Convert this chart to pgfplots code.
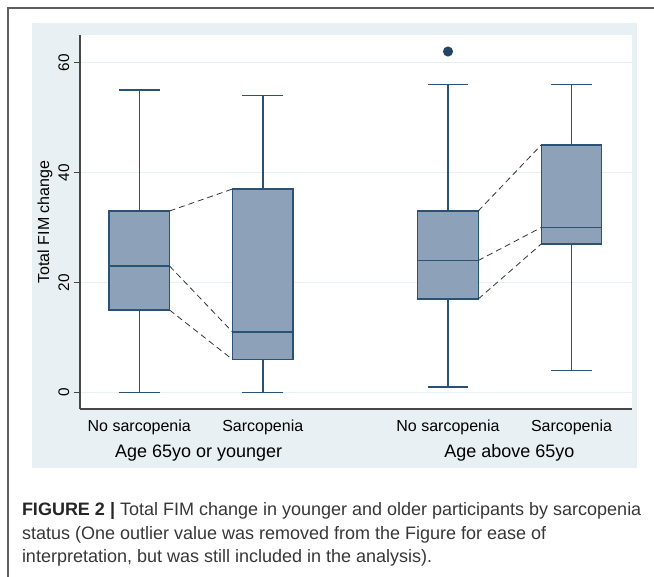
\documentclass[border=0pt]{standalone}
\usepackage{pgfplots}
\pgfplotsset{compat=1.18}
\usepgfplotslibrary{statistics}
\usepackage{fontspec}
\setmainfont{Liberation Sans}
\definecolor{bgpanel}{RGB}{232,240,243}
\definecolor{boxfill}{RGB}{141,162,184}
\definecolor{boxline}{RGB}{42,82,118}
\definecolor{gridc}{RGB}{232,240,244}
\definecolor{framec}{RGB}{95,95,95}
\definecolor{axisc}{RGB}{70,70,70}
\definecolor{captc}{RGB}{55,55,55}
\begin{document}
\begin{tikzpicture}
\path[use as bounding box] (0,0) rectangle (490.5pt,-432.75pt);
% figure frame
\draw[framec, line width=1.1pt] (490.5pt,-6pt) -- (6pt,-6pt) -- (6pt,-432.75pt);
% graph background panel
\fill[bgpanel] (24pt,-17.25pt) rectangle (477.75pt,-351pt);
\begin{axis}[
  at={(60pt,-306.75pt)}, anchor=south west,
  scale only axis, width=414pt, height=280.5pt,
  xmin=-0.48, xmax=3.99, ymin=-3, ymax=65,
  axis background/.style={fill=white},
  axis x line*=bottom, axis y line*=left,
  axis line style={axisc, line width=0.8pt, -},
  ytick={0,20,40,60},
  ymajorgrids, grid style={gridc, line width=0.9pt},
  tick align=outside, major tick length=4.5pt,
  ytick style={axisc, line width=0.8pt},
  xtick={0,1,2.5,3.5},
  xticklabels={No sarcopenia,Sarcopenia,No sarcopenia,Sarcopenia},
  xtick style={draw=none},
  /pgf/number format/assume math mode=true,
  yticklabel style={rotate=90, anchor=south, font=\fontsize{11.5}{12}\selectfont},
  xticklabel style={font=\fontsize{12}{13}\selectfont},
  boxplot/draw direction=y,
  clip=false,
]
\addplot[boxplot prepared={draw position=0, lower whisker=0, lower quartile=15, median=23, upper quartile=33, upper whisker=55, box extend=0.49, whisker extend=0.33}, fill=boxfill, draw=boxline, line width=1.1pt] coordinates {};
\addplot[boxplot prepared={draw position=1, lower whisker=0, lower quartile=6, median=11, upper quartile=37, upper whisker=54, box extend=0.49, whisker extend=0.33}, fill=boxfill, draw=boxline, line width=1.1pt] coordinates {};
\addplot[boxplot prepared={draw position=2.5, lower whisker=1, lower quartile=17, median=24, upper quartile=33, upper whisker=56, box extend=0.49, whisker extend=0.33}, fill=boxfill, draw=boxline, line width=1.1pt, mark=*, mark size=3.2pt, mark options={fill=boxline!85!black, draw=boxline!85!black}] table[row sep=\\, y index=0] {62\\};
\addplot[boxplot prepared={draw position=3.5, lower whisker=4, lower quartile=27, median=30, upper quartile=45, upper whisker=56, box extend=0.49, whisker extend=0.33}, fill=boxfill, draw=boxline, line width=1.1pt] coordinates {};
% dashed connectors
\addplot[black!80, line width=0.6pt, dash pattern=on 4.5pt off 3pt] coordinates {(0.245,33) (0.755,37)};
\addplot[black!80, line width=0.6pt, dash pattern=on 4.5pt off 3pt] coordinates {(0.245,23) (0.755,11)};
\addplot[black!80, line width=0.6pt, dash pattern=on 4.5pt off 3pt] coordinates {(0.245,15) (0.755,6)};
\addplot[black!80, line width=0.6pt, dash pattern=on 4.5pt off 3pt] coordinates {(2.745,33) (3.255,45)};
\addplot[black!80, line width=0.6pt, dash pattern=on 4.5pt off 3pt] coordinates {(2.745,24) (3.255,30)};
\addplot[black!80, line width=0.6pt, dash pattern=on 4.5pt off 3pt] coordinates {(2.745,17) (3.255,27)};
\end{axis}
% y label and group labels
\node[rotate=90, font=\fontsize{12}{13}\selectfont] at (33.75pt,-166.5pt) {Total FIM change};
\node[font=\fontsize{13.5}{14}\selectfont] at (149pt,-339.5pt) {Age 65yo or younger};
\node[font=\fontsize{13.5}{14}\selectfont] at (382.1pt,-339.5pt) {Age above 65yo};
% caption
\node[anchor=base west, inner sep=0pt, text=captc, font=\fontsize{13.5}{14}\selectfont] at (16.3pt,-386.25pt) {\textbf{\color{black!85}FIGURE 2 |} Total FIM change in younger and older participants by sarcopenia};
\node[anchor=base west, inner sep=0pt, text=captc, font=\fontsize{13.5}{14}\selectfont] at (16.3pt,-404.25pt) {status (One outlier value was removed from the Figure for ease of};
\node[anchor=base west, inner sep=0pt, text=captc, font=\fontsize{13.5}{14}\selectfont] at (16.3pt,-421.5pt) {interpretation, but was still included in the analysis).};
\end{tikzpicture}
\end{document}
